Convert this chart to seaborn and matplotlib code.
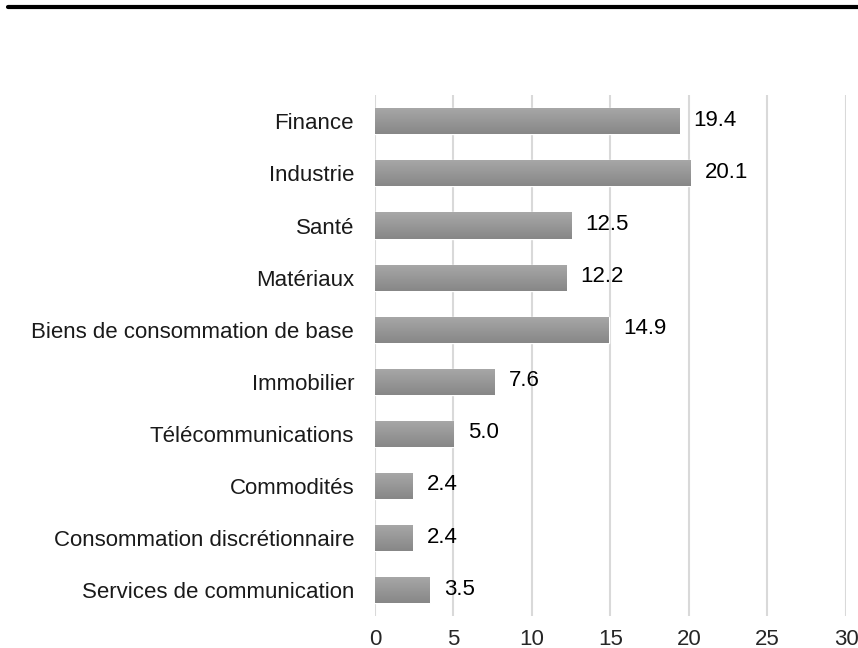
import seaborn as sns
import matplotlib.pyplot as plt
import numpy as np
import pandas as pd
from matplotlib.lines import Line2D

sectors = ['Finance', 'Industrie', 'Santé', 'Matériaux',
           'Biens de consommation de base', 'Immobilier',
           'Télécommunications', 'Commodités',
           'Consommation discrétionnaire', 'Services de communication']
values = [19.4, 20.1, 12.5, 12.2, 14.9, 7.6, 5.0, 2.4, 2.4, 3.5]
xticks = [0, 5, 10, 15, 20, 25, 30]

df = pd.DataFrame({'sector': sectors, 'value': values})

sns.set_style('white')
plt.rcParams['font.family'] = ['Liberation Sans', 'DejaVu Sans']

fig = plt.figure(figsize=(8.58, 6.48), dpi=100)
ax = fig.add_axes([0.437, 0.049, 0.549, 0.804])

sns.barplot(data=df, x='value', y='sector', orient='h', color='#999999',
            saturation=1, width=0.5, ax=ax, zorder=3)

# soft vertical gradient inside each bar (lighter on top)
grad = np.linspace(0, 1, 64).reshape(-1, 1)
cmap = sns.blend_palette(['#a8a8a8', '#878787'], as_cmap=True)
for p in ax.patches:
    x0, y0 = p.get_x(), p.get_y()
    w, h = p.get_width(), p.get_height()
    im = ax.imshow(grad, cmap=cmap, aspect='auto', zorder=4,
                   extent=[x0, x0 + w, y0 + h, y0])
    im.set_clip_path(p)

for i, v in enumerate(values):
    ax.text(v + 0.9, i - 0.02, f'{v:.1f}', va='center', ha='left',
            fontsize=16, color='#000000', zorder=5)

ax.set_xlim(0, 30)
ax.set_ylim(9.5, -0.5)
ax.set_xticks(xticks)
ax.set_xticklabels([str(t) for t in xticks])
ax.xaxis.grid(True, color='#d9d9d9', linewidth=1.5, zorder=0)
ax.set_axisbelow(True)
ax.set_xlabel('')
ax.set_ylabel('')
ax.tick_params(axis='x', length=0, pad=9, labelsize=16)
ax.tick_params(axis='y', length=0, pad=15, labelsize=16, labelcolor='#1a1a1a')
sns.despine(ax=ax, left=True, bottom=True)

# title sits above the visible area; only its descenders peek through
fig.text(0.02, 1.011, 'Répartition par secteur (en %)', fontsize=15,
         weight='bold', va='baseline', ha='left')
fig.add_artist(Line2D([0.009, 1.0], [0.9895, 0.9895], color='black',
                      linewidth=3, transform=fig.transFigure))

fig.savefig('out.png', dpi=100)
